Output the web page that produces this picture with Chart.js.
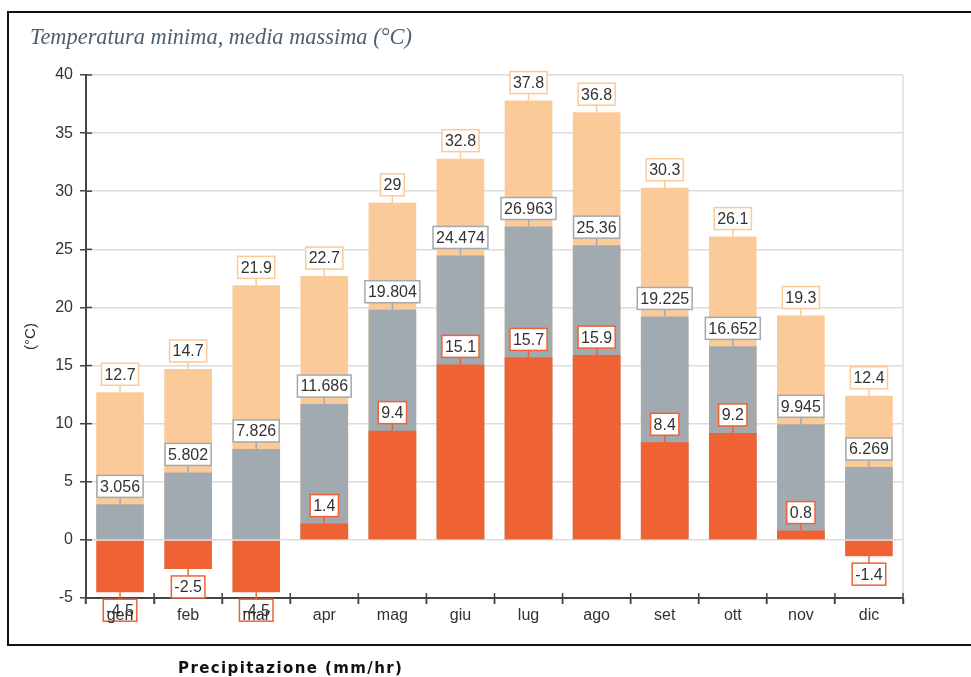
<!DOCTYPE html>
<html>
<head>
<meta charset="utf-8">
<title>Temperatura minima, media massima</title>
<script src="https://cdn.jsdelivr.net/npm/chart.js@4"></script>
<style>
html, body { margin: 0; padding: 0; background: #fff; }
</style>
</head>
<body>
<canvas id="myChart" width="971" height="677"></canvas>
<script>
// Dati
const mesi = ['gen', 'feb', 'mar', 'apr', 'mag', 'giu', 'lug', 'ago', 'set', 'ott', 'nov', 'dic'];
const tempMassima = [12.7, 14.7, 21.9, 22.7, 29, 32.8, 37.8, 36.8, 30.3, 26.1, 19.3, 12.4];
const tempMedia = [3.056, 5.802, 7.826, 11.686, 19.804, 24.474, 26.963, 25.36, 19.225, 16.652, 9.945, 6.269];
const tempMinima = [-4.5, -2.5, -4.5, 1.4, 9.4, 15.1, 15.7, 15.9, 8.4, 9.2, 0.8, -1.4];
const yMin = -5;
const yMax = 40;
const yPasso = 5;

// Cornice, titolo e scritta sotto
const cornice = {
    id: 'cornice',
    beforeDraw: function(chart) {
        var ctx = chart.ctx;
        ctx.save();
        ctx.strokeStyle = '#111';
        ctx.lineWidth = 2;
        ctx.strokeRect(8, 12, 1000, 633);
        ctx.restore();
    },
    afterDraw: function(chart) {
        var ctx = chart.ctx;
        var area = chart.chartArea;
        ctx.save();

        // bordo destro chiaro
        ctx.strokeStyle = '#dcdcdc';
        ctx.lineWidth = 1.5;
        ctx.beginPath();
        ctx.moveTo(area.right, area.top);
        ctx.lineTo(area.right, area.bottom);
        ctx.stroke();

        // tacche che attraversano gli assi
        ctx.strokeStyle = '#444';
        ctx.lineWidth = 1.5;
        var yScale = chart.scales.y;
        yScale.ticks.forEach(function(t) {
            var y = yScale.getPixelForValue(t.value);
            ctx.beginPath();
            ctx.moveTo(area.left, y);
            ctx.lineTo(area.left + 6, y);
            ctx.stroke();
        });
        var passoX = (area.right - area.left) / mesi.length;
        for (var i = 0; i <= mesi.length; i++) {
            var x = area.left + i * passoX;
            ctx.beginPath();
            ctx.moveTo(x, area.bottom - 5);
            ctx.lineTo(x, area.bottom + 6);
            ctx.stroke();
        }

        // titolo
        ctx.fillStyle = '#4E6070';
        ctx.font = 'italic 22.4px "Liberation Serif", "Times New Roman", serif';
        ctx.textBaseline = 'alphabetic';
        ctx.textAlign = 'left';
        ctx.fillText('Temperatura minima, media massima (°C)', 30, 44);

        // scritta sotto la cornice
        ctx.fillStyle = '#111';
        ctx.font = 'bold 15px "DejaVu Sans", sans-serif';
        ctx.letterSpacing = '1.4px';
        ctx.fillText('Precipitazione (mm/hr)', 178, 673);
        ctx.restore();
    }
};

// Etichette con riquadro sopra (o sotto) ogni barra
const etichette = {
    id: 'etichette',
    afterDatasetsDraw: function(chart) {
        var ctx = chart.ctx;
        ctx.save();
        ctx.font = '16px "Liberation Sans", Arial, sans-serif';
        ctx.textAlign = 'center';
        ctx.textBaseline = 'middle';
        [2, 1, 0].forEach(function(di) {
            var ds = chart.data.datasets[di];
            chart.getDatasetMeta(di).data.forEach(function(bar, i) {
                var v = ds.data[i];
                var txt = String(v);
                var w = ctx.measureText(txt).width + 6;
                var h = 22;
                var gap = 7;
                var top = v >= 0 ? bar.y - gap - h : bar.y + gap;
                ctx.strokeStyle = ds.coloreEtichetta;
                ctx.lineWidth = 1.5;
                ctx.beginPath();
                ctx.moveTo(bar.x, bar.y);
                ctx.lineTo(bar.x, v >= 0 ? top + h : top);
                ctx.stroke();
                ctx.fillStyle = '#fff';
                ctx.fillRect(bar.x - w / 2, top, w, h);
                ctx.strokeRect(bar.x - w / 2, top, w, h);
                ctx.fillStyle = '#333';
                ctx.fillText(txt, bar.x, top + h / 2 + 1);
            });
        });
        ctx.restore();
    }
};

var ctx = document.getElementById('myChart').getContext('2d');
var myChart = new Chart(ctx, {
    type: 'bar',
    data: {
        labels: mesi,
        datasets: [{
            label: 'Minima',
            data: tempMinima,
            backgroundColor: '#EE6234',
            coloreEtichetta: '#EE6234'
        }, {
            label: 'Media',
            data: tempMedia,
            backgroundColor: '#A2AAB1',
            coloreEtichetta: '#A2AAB1'
        }, {
            label: 'Massima',
            data: tempMassima,
            backgroundColor: '#FACA99',
            coloreEtichetta: '#FACA99'
        }]
    },
    options: {
        responsive: false,
        animation: false,
        barPercentage: 0.7,
        categoryPercentage: 1,
        layout: {
            padding: { left: 0, right: 68, top: 75, bottom: 0 }
        },
        plugins: {
            legend: { display: false },
            tooltip: { enabled: false }
        },
        scales: {
            x: {
                stacked: true,
                afterFit: function(scale) { scale.height = 79; },
                grid: {
                    drawOnChartArea: false,
                    tickLength: 6,
                    tickColor: '#444',
                    tickWidth: 1.5
                },
                border: { color: '#444', width: 2 },
                ticks: {
                    z: 1,
                    color: '#333',
                    padding: 2,
                    font: { family: '"Liberation Sans", Arial, sans-serif', size: 16 }
                }
            },
            y: {
                stacked: false,
                min: yMin,
                max: yMax,
                afterFit: function(scale) { scale.width = 86; },
                grid: {
                    color: '#dcdcdc',
                    lineWidth: 1.5,
                    tickLength: 6,
                    tickColor: '#444',
                    tickWidth: 1.5
                },
                border: { color: '#444', width: 2 },
                ticks: {
                    stepSize: yPasso,
                    color: '#333',
                    padding: 7,
                    font: { family: '"Liberation Sans", Arial, sans-serif', size: 16 }
                },
                title: {
                    display: true,
                    text: '(°C)',
                    color: '#333',
                    padding: { top: 22, bottom: 0 },
                    font: { family: '"Liberation Sans", Arial, sans-serif', size: 15 }
                }
            }
        }
    },
    plugins: [cornice, etichette]
});
</script>
</body>
</html>
